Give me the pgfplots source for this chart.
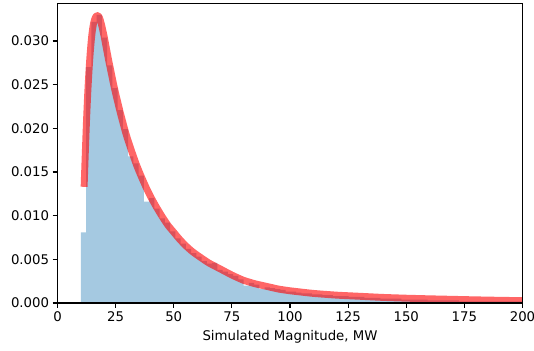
\documentclass[border=0pt]{standalone}
\usepackage{pgfplots}
\pgfplotsset{compat=1.18}
\usepackage{fontspec}
\setmainfont{DejaVu Sans}
\definecolor{histblue}{RGB}{165,201,225}
\begin{document}
\begin{tikzpicture}
\begin{axis}[
  at={(0,0)}, anchor=south west,
  scale only axis, width=465bp, height=299.7bp,
  xmin=0, xmax=200, ymin=0, ymax=0.03432,
  xtick={0,25,50,75,100,125,150,175,200},
  ytick={0,0.005,0.01,0.015,0.02,0.025,0.03},
  scaled y ticks=false,
  axis on top,
  /pgf/number format/assume math mode=true,
  yticklabel style={/pgf/number format/fixed, /pgf/number format/fixed zerofill, /pgf/number format/precision=3},
  tick align=outside, major tick length=4.9bp,
  xtick pos=left, ytick pos=left,
  tick style={black, line width=1.1bp},
  axis line style={black, line width=1.1bp},
  ticklabel style={font=\fontsize{13.3bp}{16bp}\selectfont},
  label style={font=\fontsize{13.3bp}{16bp}\selectfont},
  xlabel style={yshift=-2bp},
  xlabel={Simulated Magnitude, MW},
  clip=true,
]
\addplot[const plot mark left, fill=histblue, draw=none] coordinates {
(10.00,0.0081) (12.26,0.0270) (14.52,0.0322) (16.78,0.0330) (19.04,0.0304)
(21.30,0.0272) (23.56,0.0246) (25.82,0.0221) (28.08,0.0199) (30.34,0.0168)
(32.60,0.0160) (34.86,0.0146) (37.12,0.0116) (39.38,0.0120) (41.64,0.0108)
(43.90,0.0097) (46.16,0.0092) (48.42,0.0082) (50.68,0.0074) (52.94,0.0068)
(55.20,0.0062) (57.46,0.0057) (59.72,0.0053) (61.98,0.0048) (64.24,0.0045)
(66.50,0.0046) (68.76,0.0038) (71.02,0.0036) (73.28,0.0033) (75.54,0.0031)
(77.80,0.0027) (80.06,0.0020) (82.32,0.0023) (84.58,0.0021) (86.84,0.0016)
(89.10,0.0018) (91.36,0.0017) (93.62,0.0016) (95.88,0.0015) (98.14,0.0013)
(100.40,0.0013) (102.66,0.0012) (104.92,0.0011) (107.18,0.0011) (109.44,0.0010)
(111.70,0.0010) (113.96,0.0009) (116.22,0.0009) (118.48,0.0008) (120.74,0.0008)
(123.00,0.0008) (125.26,0.0007) (127.52,0.0007) (129.78,0.0007) (132.04,0.0006)
(134.30,0.0006) (136.56,0.0006) (138.82,0.0005) (141.08,0.0005) (143.34,0.0005)
(145.60,0.0005) (147.86,0.0004) (150.12,0.0004) (152.38,0.0004) (154.64,0.0004)
(156.90,0.0004) (159.16,0.0003) (161.42,0.0003) (163.68,0.0003) (165.94,0.0003)
(168.20,0.0003) (170.46,0.0003) (172.72,0.0002) (174.98,0.0002) (177.24,0.0002)
(179.50,0.0002) (181.76,0.0002) (184.02,0.0002) (186.28,0.0002) (188.54,0.0002)
(190.80,0.0002) (193.06,0.0002) (195.32,0.0002) (197.58,0.0002) (199.84,0.0002)
(202.10,0.0002)
} \closedcycle;
\addplot[red, opacity=0.6, line width=6.9bp, line cap=rect, line join=round, smooth, tension=0.3] coordinates {
(11.5,0.0137) (12.0,0.0175) (12.5,0.0210) (13.0,0.0240) (13.5,0.0264)
(14.0,0.0284) (14.5,0.0300) (15.0,0.0312) (15.5,0.0320) (16.0,0.0325)
(16.5,0.0328) (17.0,0.0329) (17.5,0.0329) (18.0,0.0327) (18.5,0.0323)
(19.0,0.0318) (20.0,0.0306) (21.0,0.0292) (22.0,0.0278) (23.0,0.0265)
(24.0,0.0252) (25.0,0.0240) (26.0,0.0229) (27.0,0.0218) (28.0,0.0208)
(29.0,0.0198) (30.0,0.0189) (32.0,0.0173) (34.0,0.0158) (36.0,0.0145)
(38.0,0.0133) (40.0,0.0122) (42.5,0.0110) (45.0,0.0099) (47.5,0.0089)
(50.0,0.0081) (52.5,0.0073) (55.0,0.0066) (57.5,0.0060) (60.0,0.0055)
(65.0,0.0046) (70.0,0.0039) (75.0,0.0032) (80.0,0.0026) (85.0,0.0022)
(90.0,0.0019) (95.0,0.0016) (100.0,0.0014) (110.0,0.0011) (120.0,0.00090)
(130.0,0.00077) (140.0,0.00064) (150.0,0.00055) (160.0,0.00048) (170.0,0.00042)
(180.0,0.00036) (190.0,0.00031) (200.0,0.00027) (210.0,0.00024)
};
\end{axis}
\pgfresetboundingbox
\path[use as bounding box] (-57.5bp,-48bp) rectangle (476.5bp,303bp);
\end{tikzpicture}
\end{document}
